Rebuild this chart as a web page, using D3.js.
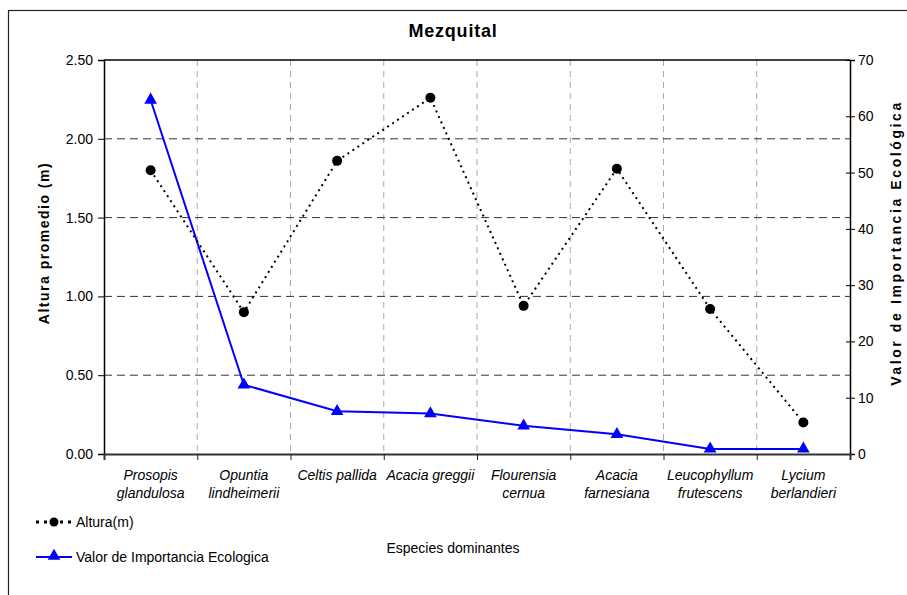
<!DOCTYPE html>
<html><head><meta charset="utf-8">
<script src="https://cdn.jsdelivr.net/npm/d3@7"></script>
<style>body{margin:0;background:#fff}svg{display:block}text{font-family:"Liberation Sans Narrow","Arial Narrow","Liberation Sans",Arial,sans-serif}</style>
</head><body><svg id="c" width="907" height="595"></svg>
<script>
const categories = [["Prosopis","glandulosa"],["Opuntia","lindheimerii"],["Celtis pallida"],["Acacia greggii"],["Flourensia","cernua"],["Acacia","farnesiana"],["Leucophyllum","frutescens"],["Lycium","berlandieri"]];
const altura = [1.80, 0.90, 1.86, 2.26, 0.94, 1.81, 0.92, 0.20];
const vie = [62.9, 12.3, 7.6, 7.2, 5.0, 3.5, 0.9, 0.9];
const leftTicks = [0, 0.5, 1.0, 1.5, 2.0, 2.5];
const rightTicks = [0, 10, 20, 30, 40, 50, 60, 70];

const svg = d3.select("#c");
const L = 104, R = 850, T = 60, B = 454;
const x = d3.scaleBand().domain(d3.range(categories.length)).range([L, R]);
const yL = d3.scaleLinear().domain([0, 2.5]).range([B, T]);
const yR = d3.scaleLinear().domain([0, 70]).range([B, T]);
const cx = i => x(i) + x.bandwidth() / 2;

// outer frame
svg.append("rect").attr("x", 8.5).attr("y", 10.5).attr("width", 920).attr("height", 600)
  .attr("fill", "none").attr("stroke", "#222").attr("stroke-width", 1.2);

// title
svg.append("text").attr("x", 453).attr("y", 37).attr("text-anchor", "middle")
  .attr("font-size", 18).attr("font-weight", "bold").attr("letter-spacing", 0.8).text("Mezquital");

// vertical gridlines
svg.append("g").selectAll("line").data(d3.range(1, categories.length)).join("line")
  .attr("x1", d => x(d)).attr("x2", d => x(d)).attr("y1", T).attr("y2", B)
  .attr("stroke", "#aaa").attr("stroke-width", 1).attr("stroke-dasharray", "6,5");
// horizontal gridlines
svg.append("g").selectAll("line").data(leftTicks.slice(1, -1)).join("line")
  .attr("x1", L).attr("x2", R).attr("y1", d => yL(d)).attr("y2", d => yL(d))
  .attr("stroke", "#333").attr("stroke-width", 1).attr("stroke-dasharray", "8,5");

// top border
svg.append("line").attr("x1", L).attr("x2", R).attr("y1", T).attr("y2", T).attr("stroke", "#000").attr("stroke-width", 1.5);

// left axis
const gl = svg.append("g").attr("transform", `translate(${L},0)`)
  .call(d3.axisLeft(yL).tickValues(leftTicks).tickFormat(d3.format(".2f")).tickSizeOuter(0).tickSize(6));
gl.select(".domain").attr("stroke", "#000").attr("stroke-width", 1.5);
gl.selectAll(".tick text").attr("font-size", 14).attr("fill", "#000").attr("font-family", null).attr("x", -11);
// right axis
const gr = svg.append("g").attr("transform", `translate(${R},0)`)
  .call(d3.axisRight(yR).tickValues(rightTicks).tickSizeOuter(0).tickSize(5));
gr.select(".domain").attr("stroke", "#000").attr("stroke-width", 1.5);
gr.selectAll(".tick line").attr("x1", -4);
gr.selectAll(".tick text").attr("font-size", 14).attr("fill", "#000").attr("font-family", null).attr("x", 8);
// bottom axis
const bx = d3.scaleLinear().domain([0, categories.length]).range([L, R]);
const gb = svg.append("g").attr("transform", `translate(0,${B})`)
  .call(d3.axisBottom(bx).tickValues(d3.range(1, categories.length)).tickFormat("").tickSizeOuter(0).tickSize(6));
gb.select(".domain").attr("stroke", "#333").attr("stroke-width", 2);
gb.selectAll(".tick line").attr("stroke", "#222");

// x labels
const xl = svg.append("g").selectAll("text").data(categories).join("text")
  .attr("text-anchor", "middle").attr("font-size", 14).attr("font-style", "italic")
  .attr("x", (d, i) => cx(i)).attr("y", 480);
xl.selectAll("tspan").data(d => d).join("tspan")
  .attr("x", function () { return d3.select(this.parentNode).attr("x"); })
  .attr("dy", (d, i) => i === 0 ? 0 : 18).text(d => d);

// axis titles
svg.append("text").attr("transform", `translate(49,243) rotate(-90)`).attr("text-anchor", "middle")
  .attr("font-size", 14).attr("font-weight", "bold").attr("letter-spacing", 1.5).text("Altura promedio (m)");
svg.append("text").attr("transform", `translate(901,243) rotate(-90)`).attr("text-anchor", "middle")
  .attr("font-size", 14).attr("font-weight", "bold").attr("letter-spacing", 2.6).text("Valor de Importancia Ecológica");
svg.append("text").attr("x", 453).attr("y", 553).attr("text-anchor", "middle").attr("font-size", 14)
  .text("Especies dominantes");

// VIE line
svg.append("path").datum(vie).attr("fill", "none").attr("stroke", "#0000ff").attr("stroke-width", 2)
  .attr("d", d3.line().x((d, i) => cx(i)).y(d => yR(d)));
const tri = d3.symbol().type(d3.symbolTriangle).size(70);
svg.append("g").selectAll("path").data(vie).join("path")
  .attr("transform", (d, i) => `translate(${cx(i)},${yR(d)})`).attr("d", tri).attr("fill", "#0000ff");

// Altura line
svg.append("path").datum(altura).attr("fill", "none").attr("stroke", "#000").attr("stroke-width", 2)
  .attr("stroke-dasharray", "2,4")
  .attr("d", d3.line().x((d, i) => cx(i)).y(d => yL(d)));
svg.append("g").selectAll("circle").data(altura).join("circle")
  .attr("cx", (d, i) => cx(i)).attr("cy", d => yL(d)).attr("r", 5).attr("fill", "#000");

// legend
const lg = svg.append("g");
lg.append("line").attr("x1", 36).attr("x2", 72).attr("y1", 522).attr("y2", 522)
  .attr("stroke", "#000").attr("stroke-width", 3).attr("stroke-dasharray", "3,5");
lg.append("circle").attr("cx", 54).attr("cy", 522).attr("r", 4.5).attr("fill", "#000");
lg.append("text").attr("x", 76).attr("y", 527).attr("font-size", 14).text("Altura(m)");
lg.append("line").attr("x1", 36).attr("x2", 72).attr("y1", 557).attr("y2", 557)
  .attr("stroke", "#0000ff").attr("stroke-width", 2);
lg.append("path").attr("transform", "translate(54,556)").attr("d", tri).attr("fill", "#0000ff");
lg.append("text").attr("x", 76).attr("y", 562).attr("font-size", 14).text("Valor de Importancia Ecologica");
</script></body></html>
